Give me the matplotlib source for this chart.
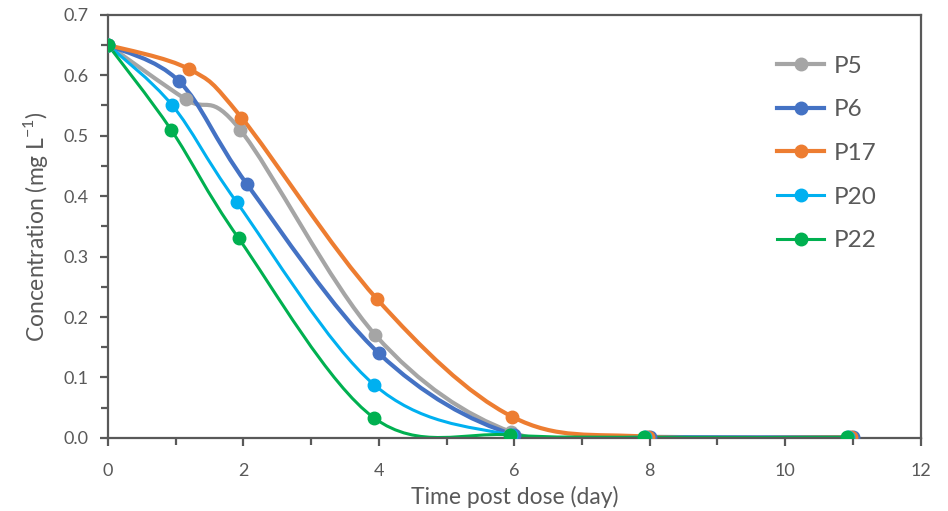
import matplotlib
matplotlib.use("Agg")
import matplotlib.pyplot as plt
from matplotlib.path import Path
from matplotlib.patches import PathPatch
from matplotlib.ticker import MultipleLocator

plt.rcParams["font.family"] = ["Lato", "DejaVu Sans"]

# data
series_names = ["P5", "P6", "P17", "P20", "P22"]
p5_day = [0, 1.15, 1.95, 3.95, 5.95, 7.95, 10.95]
p5_conc = [0.65, 0.56, 0.51, 0.17, 0.01, 0.002, 0.001]
p6_day = [0, 1.05, 2.05, 4.0, 6.0, 8.0, 11.0]
p6_conc = [0.65, 0.59, 0.42, 0.14, 0.005, 0.001, 0.001]
p17_day = [0, 1.2, 1.97, 3.97, 5.97, 7.97, 10.97]
p17_conc = [0.65, 0.61, 0.53, 0.23, 0.035, 0.002, 0.001]
p20_day = [0, 0.95, 1.9, 3.93, 5.95, 7.93, 10.93]
p20_conc = [0.65, 0.55, 0.39, 0.088, 0.005, 0.001, 0.001]
p22_day = [0, 0.93, 1.93, 3.93, 5.93, 7.92, 10.92]
p22_conc = [0.65, 0.51, 0.33, 0.033, 0.005, 0.001, 0.001]

days = [p5_day, p6_day, p17_day, p20_day, p22_day]
concs = [p5_conc, p6_conc, p17_conc, p20_conc, p22_conc]
colors = ["#A5A5A5", "#4472C4", "#ED7D31", "#00B0F0", "#00B050"]
widths = [3.0, 3.0, 3.0, 2.2, 2.2]


def smooth_path(xs, ys, k=1 / 6):
    # Excel-style smoothed line: cubic Bezier segments through the points
    verts = [(xs[0], ys[0])]
    codes = [Path.MOVETO]
    n = len(xs)
    for i in range(n - 1):
        x0, y0 = (xs[i - 1], ys[i - 1]) if i > 0 else (xs[i], ys[i])
        x1, y1 = xs[i], ys[i]
        x2, y2 = xs[i + 1], ys[i + 1]
        x3, y3 = (xs[i + 2], ys[i + 2]) if i + 2 < n else (x2, y2)
        c1 = (x1 + (x2 - x0) * k, y1 + (y2 - y0) * k)
        c2 = (x2 - (x3 - x1) * k, y2 - (y3 - y1) * k)
        verts += [c1, c2, (x2, y2)]
        codes += [Path.CURVE4] * 3
    return Path(verts, codes)


fig = plt.figure(figsize=(9.48, 5.11), dpi=100)
ax = fig.add_axes([0.114, 0.143, 0.857, 0.828])

for name, x, y, c, lw in zip(series_names, days, concs, colors, widths):
    ax.add_patch(PathPatch(smooth_path(x, y), facecolor="none", edgecolor=c,
                           lw=lw, capstyle="round", joinstyle="round", zorder=2))
    ax.plot(x, y, linestyle="none", marker="o", markersize=9, color=c, zorder=3)
    ax.plot([], [], color=c, lw=lw, marker="o", markersize=9, label=name)

ax.set_xlim(0, 12)
ax.set_ylim(0, 0.7)
ax.xaxis.set_major_locator(MultipleLocator(2))
ax.xaxis.set_minor_locator(MultipleLocator(1))
ax.yaxis.set_major_locator(MultipleLocator(0.1))
ax.yaxis.set_minor_locator(MultipleLocator(0.05))
ax.yaxis.set_major_formatter(matplotlib.ticker.FormatStrFormatter("%.1f"))

axis_color = "#595959"
for s in ax.spines.values():
    s.set_color(axis_color)
    s.set_linewidth(1.6)
ax.tick_params(which="both", direction="out", color=axis_color, width=1.6,
               labelcolor=axis_color, labelsize=13)
ax.tick_params(which="major", length=6)
ax.tick_params(which="minor", length=5)
ax.tick_params(axis="x", pad=12)
ax.tick_params(axis="y", pad=8)

ax.set_xlabel("Time post dose (day)", fontsize=16.5, color=axis_color, labelpad=5)
ax.set_ylabel(r"Concentration (mg L$^{\mathregular{-1}}$)", fontsize=16.5,
              color=axis_color, labelpad=10)

leg = ax.legend(loc="upper left", bbox_to_anchor=(0.797, 0.955), frameon=False,
                fontsize=17.5, handlelength=1.9, labelspacing=0.93,
                handletextpad=0.4, labelcolor=axis_color)

fig.savefig("out.png", dpi=100)
